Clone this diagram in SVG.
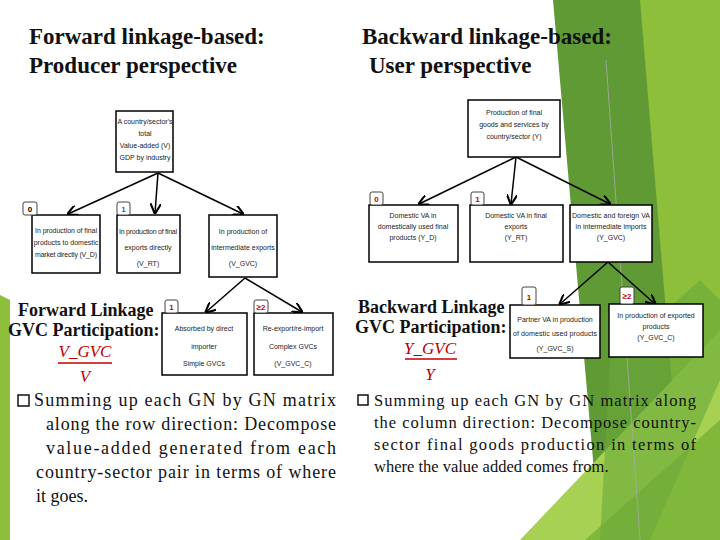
<svg xmlns="http://www.w3.org/2000/svg" width="720" height="540" viewBox="0 0 720 540">
<defs>
<marker id="ah" viewBox="0 0 10 10" refX="9" refY="5" markerWidth="7" markerHeight="7" orient="auto"><path d="M0,0 L10,5 L0,10" fill="none" stroke="#000" stroke-width="2"/></marker>
<style>
.bx{fill:#fff;stroke:#000;stroke-width:1.5}
.tg{fill:#fff;stroke:#444;stroke-width:1}
.t{font-family:"Liberation Sans",sans-serif;font-size:7px;text-anchor:middle;fill:#222}
.tn{font-family:"Liberation Sans",sans-serif;font-size:8px;font-weight:bold;text-anchor:middle;fill:#c00000}
.h{font-family:"Liberation Serif",serif;font-size:23px;font-weight:bold;fill:#111}
.lk{font-family:"Liberation Serif",serif;font-size:18px;font-weight:bold;fill:#111}
.fr{font-family:"Liberation Serif",serif;font-size:17px;font-style:italic;fill:#c00000;text-anchor:middle}
.bt{font-family:"Liberation Serif",serif;fill:#111}
.c{stroke:#000;stroke-width:1.5;fill:none;marker-end:url(#ah)}
</style>
</defs>
<rect width="720" height="540" fill="#fff"/>
<g id="background">
<polygon points="553,0 720,0 720,540 600,540" fill="#5f9a35"/>
<polygon points="640,0 720,0 720,540 685,540" fill="#8dbf3a"/>
<polygon points="520,540 720,330 720,540" fill="#a6d152"/>
<polygon points="585,540 720,420 720,540" fill="#7fb83a"/>
<polygon points="610,360 700,280 720,300 720,380 650,540 600,540" fill="#6aa83a" opacity="0.6"/>
<line x1="606" y1="60" x2="640" y2="540" stroke="#aaa" stroke-width="0.8"/>
<polygon points="0,295 10,300 10,540 0,540" fill="#8dbf3a"/>
</g>
<text class="h" x="29" y="44">Forward linkage-based:</text>
<text class="h" x="29" y="73">Producer perspective</text>
<text class="h" x="362" y="44">Backward linkage-based:</text>
<text class="h" x="369" y="73">User perspective</text>
<g id="connectors">
<line class="c" x1="158" y1="173" x2="68" y2="214"/>
<line class="c" x1="158" y1="173" x2="155" y2="213"/>
<line class="c" x1="158" y1="173" x2="243" y2="214"/>
<line class="c" x1="245" y1="278" x2="206" y2="312"/>
<line class="c" x1="245" y1="278" x2="302" y2="312"/>
<line class="c" x1="516" y1="157" x2="419" y2="204"/>
<line class="c" x1="516" y1="157" x2="511" y2="204"/>
<line class="c" x1="516" y1="157" x2="610" y2="204"/>
<line class="c" x1="608" y1="262" x2="560" y2="304"/>
<line class="c" x1="608" y1="262" x2="655" y2="304"/>
</g>
<g id="f-top"><rect class="bx" x="116" y="111" width="57" height="61"/>
<text class="t" x="145" y="124">A country/sector's</text><text class="t" x="145" y="136">total</text><text class="t" x="145" y="148">Value-added (V)</text><text class="t" x="145" y="160">GDP by industry</text></g>
<g id="f-0"><rect class="bx" x="32" y="215" width="68" height="58"/>
<text class="t" x="66" y="233" textLength="62">In production of final</text><text class="t" x="66" y="245">products to domestic</text><text class="t" x="66" y="257" textLength="62">market directly (V_D)</text>
<rect class="tg" x="23" y="202" width="14" height="13" rx="2"/><text class="tn" x="30" y="212" style="fill:#000">0</text></g>
<g id="f-1"><rect class="bx" x="117" y="215" width="63" height="58"/>
<text class="t" x="148" y="234" textLength="58">In production of final</text><text class="t" x="148" y="250">exports directly</text><text class="t" x="148" y="266">(V_RT)</text>
<rect class="tg" x="117" y="202" width="13" height="13" rx="2"/><text class="tn" x="123.5" y="212" style="fill:#2a6f8f">1</text></g>
<g id="f-2"><rect class="bx" x="209" y="215" width="68" height="62"/>
<text class="t" x="243" y="234">In production of</text><text class="t" x="243" y="250">intermediate exports</text><text class="t" x="243" y="266">(V_GVC)</text></g>
<g id="f-3"><rect class="bx" x="162" y="313" width="85" height="62"/>
<text class="t" x="204" y="331">Absorbed by direct</text><text class="t" x="204" y="349">importer</text><text class="t" x="204" y="366">Simple GVCs</text>
<rect class="tg" x="165" y="300" width="13" height="13" rx="2"/><text class="tn" x="171.5" y="310">1</text></g>
<g id="f-4"><rect class="bx" x="254" y="313" width="79" height="62"/>
<text class="t" x="293" y="331">Re-export/re-import</text><text class="t" x="293" y="349">Complex GVCs</text><text class="t" x="293" y="366">(V_GVC_C)</text>
<rect class="tg" x="254" y="300" width="14" height="13" rx="2"/><text class="tn" x="261" y="310">≥2</text></g>
<g id="b-top"><rect class="bx" x="468" y="100" width="92" height="57"/>
<text class="t" x="514" y="115">Production of final</text><text class="t" x="514" y="127">goods and services by</text><text class="t" x="514" y="139">country/sector (Y)</text></g>
<g id="b-0"><rect class="bx" x="369" y="205" width="89" height="57"/>
<text class="t" x="413" y="218">Domestic VA in</text><text class="t" x="413" y="229">domestically used final</text><text class="t" x="413" y="240">products (Y_D)</text>
<rect class="tg" x="370" y="192" width="13" height="13" rx="2"/><text class="tn" x="376.5" y="202">0</text></g>
<g id="b-1"><rect class="bx" x="470" y="205" width="93" height="57"/>
<text class="t" x="516" y="218">Domestic VA in final</text><text class="t" x="516" y="229">exports</text><text class="t" x="516" y="240">(Y_RT)</text>
<rect class="tg" x="471" y="192" width="13" height="13" rx="2"/><text class="tn" x="477.5" y="202">1</text></g>
<g id="b-2"><rect class="bx" x="570" y="205" width="82" height="57"/>
<text class="t" x="611" y="218" textLength="78">Domestic and foreign VA</text><text class="t" x="611" y="229">in intermediate imports</text><text class="t" x="611" y="240">(Y_GVC)</text></g>
<g id="b-3"><rect class="bx" x="510" y="305" width="90" height="53"/>
<text class="t" x="555" y="322">Partner VA in production</text><text class="t" x="555" y="336" textLength="84">of domestic used products</text><text class="t" x="555" y="351">(Y_GVC_S)</text>
<rect class="tg" x="522" y="287" width="14" height="18" rx="2"/><text class="tn" x="529" y="300">1</text></g>
<g id="b-4"><rect class="bx" x="609" y="304" width="94" height="53"/>
<text class="t" x="656" y="318">In production of exported</text><text class="t" x="656" y="329">products</text><text class="t" x="656" y="340">(Y_GVC_C)</text>
<rect class="tg" x="620" y="287" width="14" height="17" rx="2"/><text class="tn" x="627" y="299">≥2</text></g>
<text class="lk" x="18" y="316">Forward Linkage</text>
<text class="lk" x="8" y="336">GVC Participation:</text>
<text class="fr" x="85" y="357">V_GVC</text><line x1="58" y1="363" x2="112" y2="363" stroke="#c00000" stroke-width="1.3"/><text class="fr" x="85" y="382">V</text>
<text class="lk" x="358" y="313">Backward Linkage</text>
<text class="lk" x="355" y="333">GVC Participation:</text>
<text class="fr" x="430" y="354">Y_GVC</text><line x1="405" y1="359" x2="457" y2="359" stroke="#c00000" stroke-width="1.3"/><text class="fr" x="430" y="380">Y</text>
<g class="bt" font-size="18">
<rect x="18" y="395" width="11" height="11" fill="none" stroke="#111" stroke-width="1.5"/>
<text x="34" y="406" textLength="302" lengthAdjust="spacing">Summing up each GN by GN matrix</text>
<text x="46" y="430" textLength="290" lengthAdjust="spacing">along the row direction: Decompose</text>
<text x="46" y="454" textLength="290" lengthAdjust="spacing">value-added generated from each</text>
<text x="36" y="478" textLength="300" lengthAdjust="spacing">country-sector pair in terms of where</text>
<text x="36" y="502">it goes.</text>
</g>
<g class="bt" font-size="16.5">
<rect x="358" y="395" width="10" height="10" fill="none" stroke="#111" stroke-width="1.5"/>
<text x="374" y="406" textLength="322" lengthAdjust="spacing">Summing up each GN by GN matrix along</text>
<text x="374" y="428" textLength="322" lengthAdjust="spacing">the column direction: Decompose country-</text>
<text x="374" y="450" textLength="322" lengthAdjust="spacing">sector final goods production in terms of</text>
<text x="374" y="472">where the value added comes from.</text>
</g>
</svg>
